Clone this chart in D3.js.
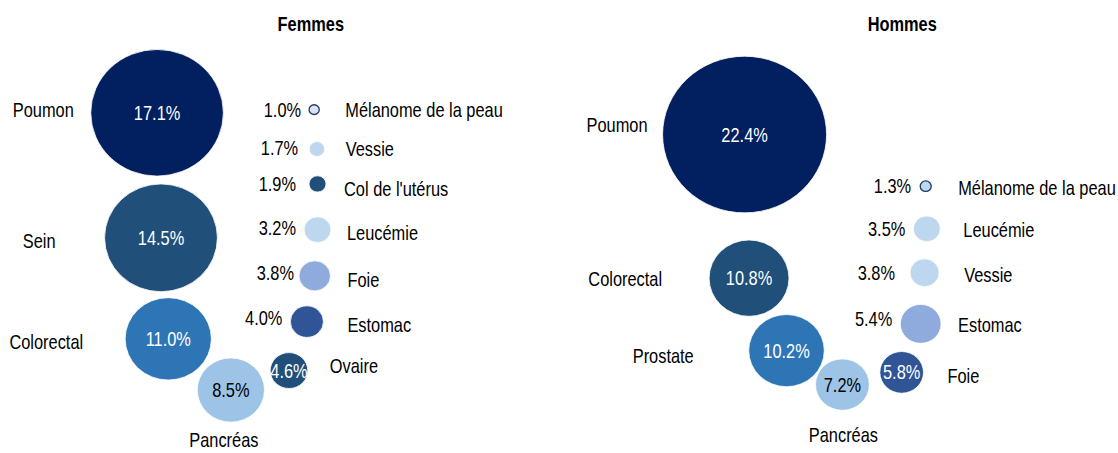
<!DOCTYPE html>
<html>
<head>
<meta charset="utf-8">
<script src="https://cdn.jsdelivr.net/npm/d3@7"></script>
<style>
  body { margin: 0; background: #fff; }
  svg { display: block; }
  text { font-family: "Liberation Sans", Arial, sans-serif; font-size: 20px; fill: #000; }
  .title { font-weight: bold; }
</style>
</head>
<body>
<script>
const width = 1118, height = 453;

// Femmes
const femmesCat = ["Poumon", "Sein", "Colorectal", "Pancréas", "Ovaire", "Estomac", "Foie", "Leucémie", "Col de l'utérus", "Vessie", "Mélanome de la peau"];
const femmesVal = [17.1, 14.5, 11.0, 8.5, 4.6, 4.0, 3.8, 3.2, 1.9, 1.7, 1.0];
const femmesX = [28.1, 28.8, 30.1, 41.3, 51.7, 54.9, 56.3, 56.8, 56.8, 56.7, 56.2];
const femmesY = [75.1, 47.5, 25.2, 13.9, 18.2, 29.0, 39.1, 49.3, 59.4, 67.1, 75.8];

// Hommes
const hommesCat = ["Poumon", "Colorectal", "Prostate", "Pancréas", "Foie", "Estomac", "Vessie", "Leucémie", "Mélanome de la peau"];
const hommesVal = [22.4, 10.8, 10.2, 7.2, 5.8, 5.4, 3.8, 3.5, 1.3];
const hommesX = [33.2, 34.0, 40.7, 50.7, 61.3, 64.7, 65.4, 65.8, 65.6];
const hommesY = [70.3, 38.6, 22.6, 15.1, 17.8, 28.5, 39.8, 49.5, 58.9];

// colours and label placement
const navy = "#022060", dark = "#204f7a", mid = "#2e75b6", pale = "#9dc3e6",
      light = "#bdd7ee", lav = "#8faadc", royal = "#2f5597", mel = "#dae3f3";

const femmesColor = [navy, dark, mid, pale, dark, royal, lav, light, dark, light, mel];
const hommesColor = [navy, dark, mid, pale, royal, lav, light, light, light];

const femmesLayout = [
  {side: "left", gap: 17, dy: -3, inside: true},
  {side: "left", gap: 49, dy: 3, inside: true},
  {side: "left", gap: 42, dy: 3, inside: true},
  {side: "below", gap: 18, dx: -7, inside: true, dark: true},
  {side: "right", gap: 22, dy: -4.5, inside: true},
  {side: "right", gap: 24, dy: 3, vdy: -3.5},
  {side: "right", gap: 17, dy: 4, vdy: -3, vgap: 5},
  {side: "right", gap: 16, dy: 3.5, vdy: -1.5},
  {side: "right", gap: 18, dy: 5, vgap: 13},
  {side: "right", gap: 21, dy: 0, vdy: -1.5, vgap: 11},
  {side: "right", gap: 26, dy: 0.5, stroke: true}
];

const hommesLayout = [
  {side: "left", gap: 15, dy: -10, inside: true},
  {side: "left", gap: 47, dy: 1, inside: true},
  {side: "left", gap: 55, dy: 5, inside: true},
  {side: "below", gap: 25, dx: 1, inside: true, dark: true},
  {side: "right", gap: 24, dy: 3.5, inside: true},
  {side: "right", gap: 17, dy: 1, vdy: -5},
  {side: "right", gap: 25, dy: 2, vgap: 15},
  {side: "right", gap: 23, dy: 1.3},
  {side: "right", gap: 27, dy: 2, vgap: 9, stroke: true}
];

const panels = [
  {title: "Femmes", titleX: 55.6, cat: femmesCat, val: femmesVal, px: femmesX, py: femmesY,
   color: femmesColor, layout: femmesLayout, range: [0, 559], rMax: 66.3, rMin: 1.3},
  {title: "Hommes", titleX: 61.4, cat: hommesCat, val: hommesVal, px: hommesX, py: hommesY,
   color: hommesColor, layout: hommesLayout, range: [559, 1118], rMax: 82, rMin: 0.8}
];

const narrow = 0.82; // no Arial Narrow installed, squeeze Liberation Sans instead

const svg = d3.select("body").append("svg")
  .attr("width", width)
  .attr("height", height);

const y = d3.scaleLinear().domain([0, 100]).range([height, 0]);
const fmt = d => d.toFixed(1) + "%";

// place a text at (tx, ty) squeezed horizontally
const at = (tx, ty) => `translate(${tx},${ty}) scale(${narrow},1)`;

panels.forEach(p => {
  const x = d3.scaleLinear().domain([0, 100]).range(p.range);
  const r = d3.scaleLinear().domain([0, d3.max(p.val)]).range([p.rMin, p.rMax]);

  const data = p.cat.map((c, i) => ({
    cat: c, val: p.val[i], cx: x(p.px[i]), cy: y(p.py[i]),
    rx: r(p.val[i]), ry: r(p.val[i]) * 0.955,
    color: p.color[i], lay: p.layout[i]
  }));

  const g = svg.append("g");

  g.append("text")
    .attr("class", "title")
    .attr("transform", at(x(p.titleX), 24))
    .attr("text-anchor", "middle")
    .attr("dominant-baseline", "central")
    .text(p.title);

  // bubbles
  g.selectAll("ellipse")
    .data(data)
    .join("ellipse")
    .attr("cx", d => d.cx)
    .attr("cy", d => d.cy)
    .attr("rx", d => d.rx)
    .attr("ry", d => d.ry)
    .attr("fill", d => d.color)
    .attr("stroke", d => d.lay.stroke ? "#1f3864" : "#fff")
    .attr("stroke-width", d => d.lay.stroke ? 1.3 : 0.8);

  // value labels
  g.selectAll("text.val")
    .data(data)
    .join("text")
    .attr("class", "val")
    .attr("transform", d => at(
      d.lay.inside ? d.cx : d.cx - d.rx - (d.lay.vgap || 8),
      d.cy + (d.lay.inside ? 0 : (d.lay.vdy || 0))))
    .attr("text-anchor", d => d.lay.inside ? "middle" : "end")
    .attr("dominant-baseline", "central")
    .style("fill", d => d.lay.inside && !d.lay.dark ? "#fff" : "#000")
    .text(d => fmt(d.val));

  // category labels
  g.selectAll("text.cat")
    .data(data)
    .join("text")
    .attr("class", "cat")
    .attr("transform", d => at(
      d.lay.side === "left" ? d.cx - d.rx - d.lay.gap
        : d.lay.side === "right" ? d.cx + d.rx + d.lay.gap
        : d.cx + d.lay.dx,
      d.lay.side === "below" ? d.cy + d.ry + d.lay.gap : d.cy + d.lay.dy))
    .attr("text-anchor", d => d.lay.side === "left" ? "end" : d.lay.side === "right" ? "start" : "middle")
    .attr("dominant-baseline", "central")
    .text(d => d.cat);
});
</script>
</body>
</html>
